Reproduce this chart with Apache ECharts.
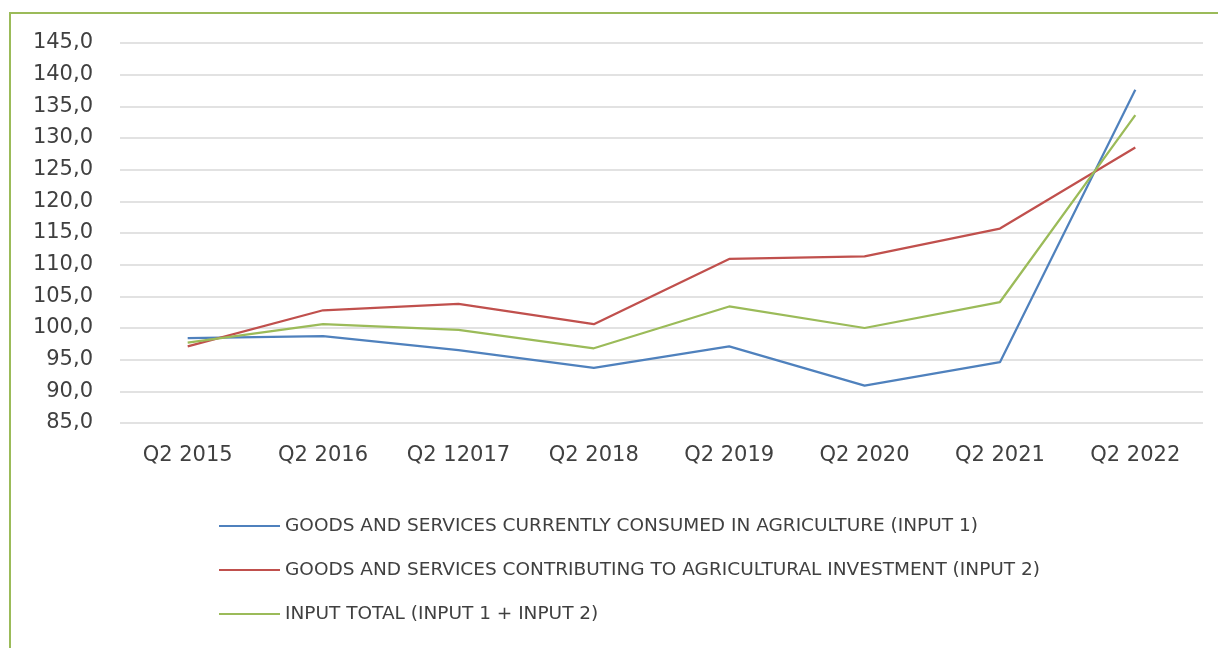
<!DOCTYPE html>
<html>
<head>
<meta charset="utf-8">
<script src="https://cdn.jsdelivr.net/npm/echarts@6/dist/echarts.min.js"></script>
<style>
html,body{margin:0;padding:0;background:#fff;}
#chart{width:1218px;height:648px;}
</style>
</head>
<body>
<div id="chart"></div>
<script>
const categories = ['Q2 2015','Q2 2016','Q2 12017','Q2 2018','Q2 2019','Q2 2020','Q2 2021','Q2 2022'];
const input1 = [98.4, 98.7, 96.5, 93.7, 97.1, 90.9, 94.6, 137.6];
const input2 = [97.1, 102.8, 103.8, 100.6, 110.9, 111.3, 115.7, 128.5];
const inputTotal = [97.7, 100.6, 99.7, 96.8, 103.4, 100.0, 104.1, 133.6];
const seriesNames = [
  'GOODS AND SERVICES CURRENTLY CONSUMED IN AGRICULTURE (INPUT 1)',
  'GOODS AND SERVICES CONTRIBUTING TO AGRICULTURAL INVESTMENT (INPUT 2)',
  'INPUT TOTAL (INPUT 1 + INPUT 2)'
];

const chart = echarts.init(document.getElementById('chart'));
const fontFam = 'DejaVu Sans, sans-serif';
const mk = (name, data, color) => ({
  name, type: 'line', data, symbol: 'none',
  lineStyle: {color, width: 2.25}, itemStyle: {color},
  animation: false
});
chart.setOption({
  animation: false,
  graphic: [{
    type: 'rect', silent: true,
    shape: {x: 10, y: 13, width: 1400, height: 800},
    style: {fill: 'none', stroke: '#9BBB59', lineWidth: 2}
  }],
  grid: {left: 120, right: 15, top: 43, bottom: 225},
  xAxis: {
    type: 'category', data: categories, boundaryGap: true,
    axisLine: {show: false}, axisTick: {show: false},
    axisLabel: {color: '#404040', fontSize: 21, fontFamily: fontFam, margin: 22}
  },
  yAxis: {
    type: 'value', min: 85, max: 145, interval: 5,
    axisLine: {show: false}, axisTick: {show: false},
    splitLine: {lineStyle: {color: '#D9D9D9', width: 1.5}},
    axisLabel: {
      color: '#404040', fontSize: 21, fontFamily: fontFam, margin: 27,
      formatter: v => v.toFixed(1).replace('.', ',')
    }
  },
  legend: {
    orient: 'vertical', left: 214, top: 510,
    icon: 'rect', itemWidth: 61, itemHeight: 2, itemGap: 22,
    textStyle: {color: '#404040', fontSize: 18.5, fontFamily: fontFam, lineHeight: 22},
    data: seriesNames
  },
  series: [
    mk(seriesNames[0], input1, '#4F81BD'),
    mk(seriesNames[1], input2, '#C0504D'),
    mk(seriesNames[2], inputTotal, '#9BBB59')
  ]
});
</script>
</body>
</html>
